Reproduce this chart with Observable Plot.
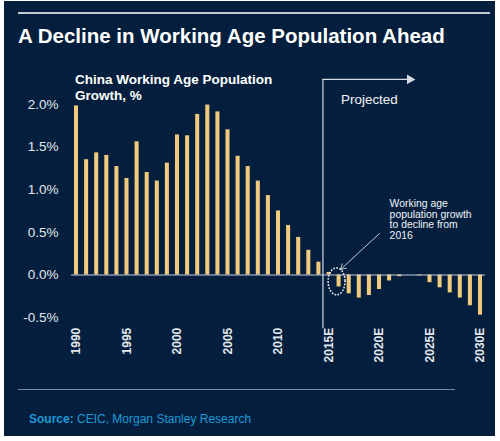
<!DOCTYPE html>
<html>
<head>
<meta charset="utf-8">
<script src="https://cdn.jsdelivr.net/npm/d3@7"></script>
<script src="https://cdn.jsdelivr.net/npm/@observablehq/plot@0.6"></script>
<style>
  html, body { margin: 0; padding: 0; background: #ffffff; }
  body { width: 500px; height: 441px; position: relative; overflow: hidden;
         font-family: "Liberation Sans", Arial, Helvetica, sans-serif; }
  #card { position: absolute; left: 4px; top: 1px; width: 491px; height: 435px; background: #041f3e; }
  .abs { position: absolute; white-space: nowrap; }
  #topline { left: 18px; top: 12px; width: 472px; height: 2px; background: #c3c9d2; }
  #title { left: 18px; top: 25px; font-size: 20.5px; line-height: 22px; font-weight: bold; color: #ffffff; }
  #ytitle { left: 75px; top: 72px; font-size: 13.5px; line-height: 16px; font-weight: bold; color: #ffffff; }
  #footline { left: 18px; top: 389px; width: 437px; height: 1px; background: #7d8a9c; }
  #source { left: 29px; top: 412px; font-size: 12px; line-height: 14px; color: #1b9ad6; }
  #chart { position: absolute; left: 0; top: 0; }
</style>
</head>
<body>
<div id="card"></div>
<div id="topline" class="abs"></div>
<div id="title" class="abs">A Decline in Working Age Population Ahead</div>
<div id="ytitle" class="abs">China Working Age Population<br>Growth, %</div>
<div id="footline" class="abs"></div>
<div id="source" class="abs"><b>Source:</b> CEIC, Morgan Stanley Research</div>
<div id="chart"></div>
<script>
// ---- data ----
const years = [1990, 1991, 1992, 1993, 1994, 1995, 1996, 1997, 1998, 1999,
               2000, 2001, 2002, 2003, 2004, 2005, 2006, 2007, 2008, 2009,
               2010, 2011, 2012, 2013, 2014, 2015, 2016, 2017, 2018, 2019,
               2020, 2021, 2022, 2023, 2024, 2025, 2026, 2027, 2028, 2029, 2030];
const growth = [1.98, 1.35, 1.43, 1.40, 1.27, 1.13, 1.56, 1.20, 1.10, 1.31,
                1.64, 1.63, 1.88, 1.99, 1.91, 1.70, 1.39, 1.27, 1.10, 0.93,
                0.75, 0.58, 0.44, 0.29, 0.15, 0.03, -0.14, -0.22, -0.27, -0.24,
                -0.17, -0.07, -0.02, 0.00, -0.01, -0.09, -0.15, -0.21, -0.27, -0.36, -0.47];
const tickYears = [1990, 1995, 2000, 2005, 2010, 2015, 2020, 2025, 2030];
const tickLabels = ["1990", "1995", "2000", "2005", "2010", "2015E", "2020E", "2025E", "2030E"];
const yTicks = [-0.5, 0, 0.5, 1.0, 1.5, 2.0];
const yTickLabels = ["-0.5%", "0.0%", "0.5%", "1.0%", "1.5%", "2.0%"];
const projectedFrom = 2014.4;          // boundary between actual and projected
const bracketTop = 2.29;               // height of the "Projected" bracket
const bracketBottom = -0.63;
const bracketEnd = 2023.0;
const projectedLabel = "Projected";
const noteText = "Working age\npopulation growth\nto decline from\n2016";
const highlight = {x: 2015.8, y: -0.08}; // dotted ellipse around 2016

const data = years.map((year, i) => ({year, value: growth[i]}));

const gold = "#f1ca7d";
const light = "#d6dbe3";

function ellipseMark(...args) {
  const scales = args.find(a => a && typeof a.x === "function" && typeof a.y === "function");
  const el = document.createElementNS("http://www.w3.org/2000/svg", "ellipse");
  el.setAttribute("cx", scales.x(highlight.x));
  el.setAttribute("cy", scales.y(highlight.y));
  el.setAttribute("rx", 8.5);
  el.setAttribute("ry", 13.5);
  el.setAttribute("fill", "none");
  el.setAttribute("stroke", "#e8ecf2");
  el.setAttribute("stroke-width", 1.8);
  el.setAttribute("stroke-dasharray", "0.1 3");
  el.setAttribute("stroke-linecap", "round");
  return el;
}

const plot = Plot.plot({
  width: 500,
  height: 441,
  marginLeft: 70.95,
  marginRight: 14.95,
  marginTop: 103.7,
  marginBottom: 123.8,
  style: {background: "transparent", color: "#e3e7ec", fontFamily: "Liberation Sans, Arial, Helvetica, sans-serif", overflow: "visible"},
  x: {domain: [1989.5, 2030.5]},
  y: {domain: [-0.5, 2.0]},
  marks: [
    Plot.rectY(data, {x1: d => d.year - 0.2, x2: d => d.year + 0.2, y: "value", fill: gold}),
    Plot.ruleY([0], {stroke: "#c6ccd6", strokeWidth: 1.2}),
    Plot.axisY({ticks: yTicks, tickFormat: d => yTickLabels[yTicks.indexOf(d)], tickSize: 0, tickPadding: 13,
                fontSize: 13.5, label: null, fill: "#e3e7ec"}),
    Plot.axisX({ticks: tickYears, tickFormat: d => tickLabels[tickYears.indexOf(d)], tickRotate: -90,
                tickSize: 0, tickPadding: 10, fontSize: 12, fontWeight: "bold", label: null, fill: "#e3e7ec"}),
    // projected bracket
    Plot.ruleX([projectedFrom], {y1: bracketBottom, y2: bracketTop, stroke: light, strokeWidth: 1.2}),
    Plot.ruleY([bracketTop], {x1: projectedFrom, x2: bracketEnd, stroke: light, strokeWidth: 1.2}),
    Plot.dot([{x: bracketEnd, y: bracketTop}], {x: "x", y: "y", symbol: "triangle", r: 3.6, rotate: 90, fill: light, stroke: null}),
    Plot.text([projectedLabel], {x: 2019.0, y: 2.055, text: d => d, fontSize: 13.4, fill: "#f2f4f7", textAnchor: "middle"}),
    // note
    Plot.text([noteText], {x: 2021.0, y: 0.65, text: d => d, fontSize: 10.4, lineHeight: 1.02, fill: "#f2f4f7", textAnchor: "start"}),
    Plot.arrow([{x1: 2020.0, y1: 0.486, x2: 2016.14, y2: 0.064}], {x1: "x1", y1: "y1", x2: "x2", y2: "y2",
                stroke: "#c0c8d4", strokeWidth: 1, headLength: 9, insetStart: 0, insetEnd: 0}),
    ellipseMark
  ]
});
document.getElementById("chart").appendChild(plot);
</script>
</body>
</html>
